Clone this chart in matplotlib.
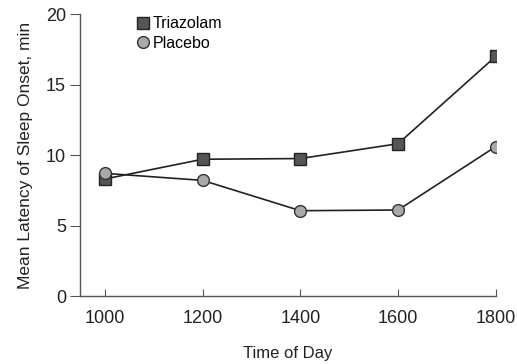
import matplotlib
matplotlib.use("Agg")
import matplotlib.pyplot as plt

times = [1000, 1200, 1400, 1600, 1800]
triazolam = [8.3, 9.7, 9.75, 10.8, 17.0]
placebo = [8.7, 8.2, 6.05, 6.1, 10.6]
xticks = [1000, 1200, 1400, 1600, 1800]
yticks = [0, 5, 10, 15, 20]

plt.rcParams['font.family'] = ['Liberation Sans', 'DejaVu Sans']
fig = plt.figure(figsize=(5.17, 3.64), dpi=100)
ax = fig.add_axes([0.1547, 0.1868, 0.8043, 0.7747])

ax.plot(times, triazolam, color='#222222', lw=1.2, marker='s', ms=8,
        mfc='#555559', mec='#222222', mew=1.0, label='Triazolam', zorder=3)
ax.plot(times, placebo, color='#222222', lw=1.2, marker='o', ms=8.5,
        mfc='#a9a9ab', mec='#333333', mew=1.0, label='Placebo', zorder=4)

ax.set_xlim(949, 1800)
ax.set_ylim(0, 20)
ax.set_xticks(xticks)
ax.set_yticks(yticks)
for s in ['top', 'right']:
    ax.spines[s].set_visible(False)
for s in ['left', 'bottom']:
    ax.spines[s].set_color('#555555')
    ax.spines[s].set_linewidth(1.0)
ax.tick_params(axis='x', direction='in', length=5, color='#555555', labelsize=13, pad=10, labelcolor='#222222')
ax.tick_params(axis='y', direction='out', length=7, color='#555555', labelsize=13, pad=3, labelcolor='#222222')
ax.set_xlabel('Time of Day', fontsize=12, color='#222222', labelpad=14)
ax.set_ylabel('Mean Latency of Sleep Onset, min', fontsize=12.5, color='#222222', labelpad=9)

leg = ax.legend(loc='upper left', bbox_to_anchor=(0.125, 1.015), frameon=False,
                fontsize=11.5, handlelength=0.6, handletextpad=0.3,
                labelspacing=0.3, borderaxespad=0)
for h in leg.legend_handles:
    h.set_linestyle('none')
    h.set_markersize(8.5)

fig.savefig('out.png', dpi=100)
